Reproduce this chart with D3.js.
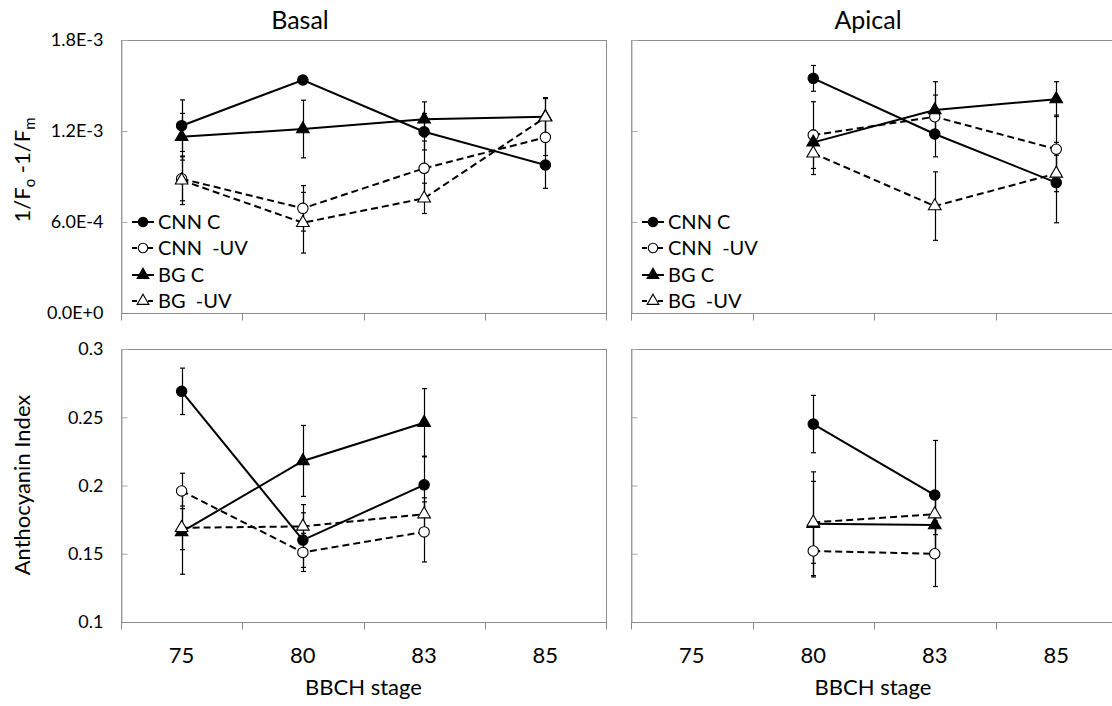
<!DOCTYPE html>
<html><head><meta charset="utf-8">
<script src="https://cdn.jsdelivr.net/npm/d3@7/dist/d3.min.js"></script>
<style>
html,body{margin:0;padding:0;background:#fff;}
svg{display:block;font-family:Lato,"Open Sans",sans-serif;}
</style></head>
<body>
<svg id="chart" width="1112" height="706"></svg>
<script>
// ---------- data ----------
const categories = ["75", "80", "83", "85"];
const seriesNames = ["CNN C", "CNN  -UV", "BG C", "BG  -UV"];
const seriesFilled = [true, false, true, false];
const seriesShape = ["circle", "circle", "triangle", "triangle"];
const seriesDashed = [false, true, false, true];

const topTickValues = [0, 0.0006, 0.0012, 0.0018];
const topTickLabels = ["0.0E+0", "6.0E-4", "1.2E-3", "1.8E-3"];
const bottomTickValues = [0.1, 0.15, 0.2, 0.25, 0.3];
const bottomTickLabels = ["0.1", "0.15", "0.2", "0.25", "0.3"];

// Fluorescence (1/Fo - 1/Fm), Basal
const basalFluoCNNC   = [1.235e-3, 1.536e-3, 1.195e-3, 0.976e-3];
const basalFluoCNNCErr= [0.17e-3, 0, 0.12e-3, 0.154e-3];
const basalFluoCNNUV  = [0.885e-3, 0.69e-3, 0.954e-3, 1.158e-3];
const basalFluoCNNUVErr=[0.145e-3, 0.15e-3, 0.18e-3, 0.12e-3];
const basalFluoBGC    = [1.162e-3, 1.213e-3, 1.277e-3, 1.294e-3];
const basalFluoBGCErr = [0.154e-3, 0.19e-3, 0.115e-3, 0.12e-3];
const basalFluoBGUV   = [0.875e-3, 0.595e-3, 0.756e-3, 1.29e-3];
const basalFluoBGUVErr= [0.16e-3, 0.2e-3, 0.1e-3, 0.13e-3];

// Fluorescence, Apical
const apicalFluoCNNC   = [null, 1.547e-3, 1.18e-3, 0.86e-3];
const apicalFluoCNNCErr= [null, 0.085e-3, 0.15e-3, 0.265e-3];
const apicalFluoCNNUV  = [null, 1.173e-3, 1.294e-3, 1.08e-3];
const apicalFluoCNNUVErr=[null, 0.22e-3, 0.143e-3, 0.225e-3];
const apicalFluoBGC    = [null, 1.125e-3, 1.338e-3, 1.41e-3];
const apicalFluoBGCErr = [null, 0.08e-3, 0.187e-3, 0.115e-3];
const apicalFluoBGUV   = [null, 1.053e-3, 0.705e-3, 0.92e-3];
const apicalFluoBGUVErr= [null, 0.14e-3, 0.226e-3, 0.12e-3];

// Anthocyanin index, Basal
const basalAntCNNC    = [0.269, 0.160, 0.2005, null];
const basalAntCNNCErr = [0.017, 0.02, 0.021, null];
const basalAntCNNUV   = [0.196, 0.151, 0.166, null];
const basalAntCNNUVErr= [0.013, 0.014, 0.022, null];
const basalAntBGC     = [0.166, 0.218, 0.246, null];
const basalAntBGCErr  = [0.031, 0.026, 0.025, null];
const basalAntBGUV    = [0.169, 0.170, 0.179, null];
const basalAntBGUVErr = [0.016, 0.016, 0.012, null];

// Anthocyanin index, Apical
const apicalAntCNNC    = [null, 0.245, 0.193, null];
const apicalAntCNNCErr = [null, 0.021, 0.04, null];
const apicalAntCNNUV   = [null, 0.152, 0.150, null];
const apicalAntCNNUVErr= [null, 0.019, 0.024, null];
const apicalAntBGC     = [null, 0.172, 0.171, null];
const apicalAntBGCErr  = [null, 0.038, 0.02, null];
const apicalAntBGUV    = [null, 0.173, 0.179, null];
const apicalAntBGUVErr = [null, 0.03, 0.015, null];

// ---------- drawing ----------
const svg = d3.select("#chart");
const FONT = 'Lato, "Open Sans", sans-serif';

const panels = [
  {x0:121, x1:606, y0:40, y1:313, domain:[0,0.0018], ticks:topTickValues, labels:topTickLabels, showLabels:true, legend:true,
   vals:[basalFluoCNNC,basalFluoCNNUV,basalFluoBGC,basalFluoBGUV], errs:[basalFluoCNNCErr,basalFluoCNNUVErr,basalFluoBGCErr,basalFluoBGUVErr]},
  {x0:631, x1:1117, y0:40, y1:313, domain:[0,0.0018], ticks:topTickValues, labels:topTickLabels, showLabels:false, legend:true,
   vals:[apicalFluoCNNC,apicalFluoCNNUV,apicalFluoBGC,apicalFluoBGUV], errs:[apicalFluoCNNCErr,apicalFluoCNNUVErr,apicalFluoBGCErr,apicalFluoBGUVErr]},
  {x0:121, x1:606, y0:349, y1:622, domain:[0.1,0.3], ticks:bottomTickValues, labels:bottomTickLabels, showLabels:true, legend:false, xlab:true,
   vals:[basalAntCNNC,basalAntCNNUV,basalAntBGC,basalAntBGUV], errs:[basalAntCNNCErr,basalAntCNNUVErr,basalAntBGCErr,basalAntBGUVErr]},
  {x0:631, x1:1117, y0:349, y1:622, domain:[0.1,0.3], ticks:bottomTickValues, labels:bottomTickLabels, showLabels:false, legend:false, xlab:true,
   vals:[apicalAntCNNC,apicalAntCNNUV,apicalAntBGC,apicalAntBGUV], errs:[apicalAntCNNCErr,apicalAntCNNUVErr,apicalAntBGCErr,apicalAntBGUVErr]}
];

function symbolPath(i, size) {
  const t = seriesShape[i] === "circle" ? d3.symbolCircle : d3.symbolTriangle;
  return d3.symbol().type(t).size(size)();
}

panels.forEach(p => {
  const g = svg.append("g");
  const x = d3.scaleBand().domain(categories).range([p.x0, p.x1]).padding(0);
  const y = d3.scaleLinear().domain(p.domain).range([p.y1, p.y0]);

  // plot border
  g.append("rect").attr("x", p.x0 + 0.5).attr("y", p.y0 + 0.5)
    .attr("width", p.x1 - p.x0).attr("height", p.y1 - p.y0)
    .attr("fill", "none").attr("stroke", "#8c8c8c").attr("stroke-width", 1);

  // y axis (ticks inward)
  const yAxis = d3.axisRight(y).tickValues(p.ticks).tickSize(6)
    .tickFormat((d, i) => p.showLabels ? p.labels[i] : "");
  const ya = g.append("g").attr("transform", `translate(${p.x0 + 0.5},0)`).call(yAxis);
  ya.select(".domain").attr("stroke", "#a6a6a6");
  ya.selectAll(".tick line").attr("stroke", "#a6a6a6");
  ya.selectAll(".tick text").attr("x", -18).attr("text-anchor", "end")
    .attr("font-family", FONT).attr("font-size", 18).attr("fill", "#000");

  // x axis: ticks at band boundaries
  const xa = g.append("g").attr("transform", `translate(0,${p.y1 + 0.5})`);
  xa.append("line").attr("x1", p.x0).attr("x2", p.x1).attr("stroke", "#8c8c8c");
  const bounds = categories.map(c => x(c)).concat([p.x1]);
  xa.selectAll("line.tk").data(bounds).enter().append("line").attr("class", "tk")
    .attr("x1", d => Math.round(d) + 0.5).attr("x2", d => Math.round(d) + 0.5)
    .attr("y1", 0).attr("y2", 7).attr("stroke", "#8c8c8c");
  if (p.xlab) {
    const xAxis = d3.axisBottom(x).tickSize(0).tickPadding(0);
    const xt = g.append("g").attr("transform", `translate(0,${p.y1})`).call(xAxis);
    xt.select(".domain").remove();
    xt.selectAll(".tick text").attr("y", 0).attr("dy", 0).attr("transform", "translate(0,41)")
      .attr("font-family", FONT).attr("font-size", 22).attr("fill", "#000");
    g.append("text").attr("x", (p.x0 + p.x1) / 2 + (p.x0 > 300 ? -1 : 0)).attr("y", 695)
      .attr("text-anchor", "middle").attr("font-family", FONT).attr("font-size", 22)
      .text("BBCH stage");
  }

  const cx = c => x(c) + x.bandwidth() / 2;

  // lines
  p.vals.forEach((vals, si) => {
    const pts = categories.map((c, i) => ({c, v: vals[i]})).filter(d => d.v != null);
    const line = d3.line().x(d => cx(d.c)).y(d => y(d.v));
    g.append("path").datum(pts).attr("d", line).attr("fill", "none")
      .attr("stroke", "#000").attr("stroke-width", 2)
      .attr("stroke-dasharray", seriesDashed[si] ? "7,4" : null);
  });
  // error bars
  p.vals.forEach((vals, si) => {
    categories.forEach((c, i) => {
      const v = vals[i], e = p.errs[si][i];
      if (v == null || !e) return;
      const X = Math.round(cx(c)) + 0.5;
      g.append("line").attr("x1", X).attr("x2", X).attr("y1", y(v - e)).attr("y2", y(v + e))
        .attr("stroke", "#000").attr("stroke-width", 1.2);
      [v - e, v + e].forEach(w => g.append("line").attr("x1", X - 2.5).attr("x2", X + 2.5)
        .attr("y1", y(w)).attr("y2", y(w)).attr("stroke", "#000").attr("stroke-width", 1.2));
    });
  });
  // markers
  p.vals.forEach((vals, si) => {
    categories.forEach((c, i) => {
      const v = vals[i];
      if (v == null) return;
      g.append("path").attr("d", symbolPath(si, seriesShape[si] === "circle" ? 85 : 70))
        .attr("transform", `translate(${cx(c)},${y(v)})`)
        .attr("fill", seriesFilled[si] ? "#000" : "#fff").attr("stroke", "#000").attr("stroke-width", 1.1);
    });
  });

  // legend
  if (p.legend) {
    const lx = p.x0 + 11, rowY = [222, 248, 275, 301];
    seriesNames.forEach((n, si) => {
      const ly = rowY[si];
      g.append("line").attr("x1", lx).attr("x2", lx + 22).attr("y1", ly).attr("y2", ly)
        .attr("stroke", "#000").attr("stroke-width", 2)
        .attr("stroke-dasharray", seriesDashed[si] ? "5,3" : null);
      g.append("path").attr("d", symbolPath(si, seriesShape[si] === "circle" ? 70 : 60))
        .attr("transform", `translate(${lx + 11},${ly})`)
        .attr("fill", seriesFilled[si] ? "#000" : "#fff").attr("stroke", "#000").attr("stroke-width", 1.1);
      g.append("text").attr("x", lx + 26).attr("y", ly + 7)
        .attr("font-family", FONT).attr("font-size", 20).attr("xml:space", "preserve")
        .style("white-space", "pre").text(n);
    });
  }
});

// titles
svg.append("text").attr("x", 300).attr("y", 29).attr("text-anchor", "middle")
  .attr("font-family", FONT).attr("font-size", 25).text("Basal");
svg.append("text").attr("x", 868).attr("y", 29).attr("text-anchor", "middle")
  .attr("font-family", FONT).attr("font-size", 25).text("Apical");

// y axis titles
const yt1 = svg.append("text").attr("transform", "translate(30,170) rotate(-90)")
  .attr("text-anchor", "middle").attr("font-family", FONT).attr("font-size", 22);
yt1.append("tspan").text("1/F");
yt1.append("tspan").attr("font-size", 15).attr("dy", 5).text("o");
yt1.append("tspan").attr("dy", -5).attr("xml:space", "preserve").style("white-space", "pre").text(" -1/F");
yt1.append("tspan").attr("font-size", 15).attr("dy", 5).text("m");

svg.append("text").attr("transform", "translate(30,485) rotate(-90)")
  .attr("text-anchor", "middle").attr("font-family", FONT).attr("font-size", 22)
  .text("Anthocyanin Index");
</script>
</body></html>
